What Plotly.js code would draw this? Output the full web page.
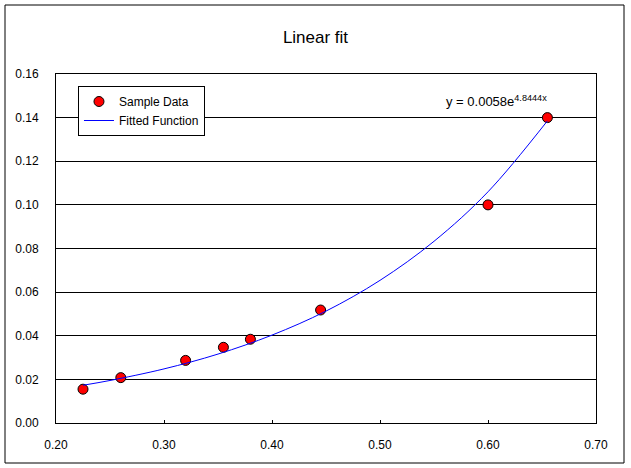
<!DOCTYPE html>
<html>
<head>
<meta charset="utf-8">
<script src="https://cdn.plot.ly/plotly-3.0.1.min.js"></script>
<style>
  html, body { margin: 0; padding: 0; background: #fff; }
  #chart { width: 631px; height: 468px; }
</style>
</head>
<body>
<div id="chart"></div>
<script>
// Sample points
const sampleX = [0.225, 0.26, 0.32, 0.355, 0.38, 0.445, 0.60, 0.655];
const sampleY = [0.0155, 0.0208, 0.0287, 0.0347, 0.0384, 0.0518, 0.100, 0.140];

// Fitted curve, read along the blue trendline
const fitX = [0.225, 0.25, 0.30, 0.35, 0.40, 0.45, 0.50, 0.55, 0.60, 0.655];
const fitY = [0.0173, 0.0195, 0.0248, 0.0316, 0.0403, 0.0513, 0.0654, 0.0833, 0.106, 0.1385];

const xTicks = [0.2, 0.3, 0.4, 0.5, 0.6, 0.7];
const yTicks = [0, 0.02, 0.04, 0.06, 0.08, 0.10, 0.12, 0.14, 0.16];

const FONT = "Liberation Sans, Arial, sans-serif";

const traces = [
  {
    x: sampleX,
    y: sampleY,
    name: "Sample Data",
    mode: "markers",
    type: "scatter",
    marker: { color: "#ff0000", size: 10, line: { color: "#000", width: 1 } }
  },
  {
    x: fitX,
    y: fitY,
    name: "Fitted Function",
    mode: "lines",
    type: "scatter",
    line: { color: "#0000ff", width: 1, shape: "spline" }
  }
];

const axisBase = {
  showline: true,
  linecolor: "#000",
  linewidth: 1,
  mirror: true,
  zeroline: false,
  ticks: "inside",
  ticklen: 3,
  tickcolor: "#000",
  tickfont: { family: FONT, size: 12, color: "#000" }
};

const layout = {
  width: 631,
  height: 468,
  margin: { l: 56, r: 35, t: 74, b: 45 },
  paper_bgcolor: "#fff",
  plot_bgcolor: "#fff",
  title: {
    text: "Linear fit",
    font: { family: FONT, size: 17, color: "#000" },
    x: 0.5,
    xref: "container",
    y: 1 - 37 / 468,
    yref: "container",
    yanchor: "middle"
  },
  xaxis: {
    ...axisBase,
    range: [0.2, 0.7],
    tickvals: xTicks,
    tickformat: ".2f",
    showgrid: false,
    ticklabelstandoff: 11
  },
  yaxis: {
    ...axisBase,
    range: [0, 0.16],
    tickvals: yTicks,
    tickformat: ".2f",
    showgrid: true,
    gridcolor: "#000",
    gridwidth: 1,
    ticklabelstandoff: 14
  },
  showlegend: true,
  legend: {
    x: 0.0407,
    y: 0.9656,
    xanchor: "left",
    yanchor: "top",
    bgcolor: "#fff",
    bordercolor: "#000",
    borderwidth: 1,
    font: { family: FONT, size: 12, color: "#000" },
    tracegroupgap: 0,
    itemwidth: 30
  },
  annotations: [
    {
      x: 0.5595,
      y: 0.1475,
      xref: "x",
      yref: "y",
      xanchor: "left",
      yanchor: "middle",
      showarrow: false,
      text: "y = 0.0058e<sup>4.8444x</sup>",
      font: { family: FONT, size: 13, color: "#000" }
    }
  ],
  shapes: [
    {
      type: "rect",
      xref: "paper",
      yref: "paper",
      x0: (5 - 56) / 540,
      x1: (624 - 56) / 540,
      y0: (423 - 463) / 349,
      y1: (423 - 5) / 349,
      line: { color: "#000", width: 1 },
      fillcolor: "rgba(0,0,0,0)",
      layer: "below"
    }
  ]
};

Plotly.newPlot("chart", traces, layout, { displayModeBar: false, staticPlot: true });
</script>
</body>
</html>
